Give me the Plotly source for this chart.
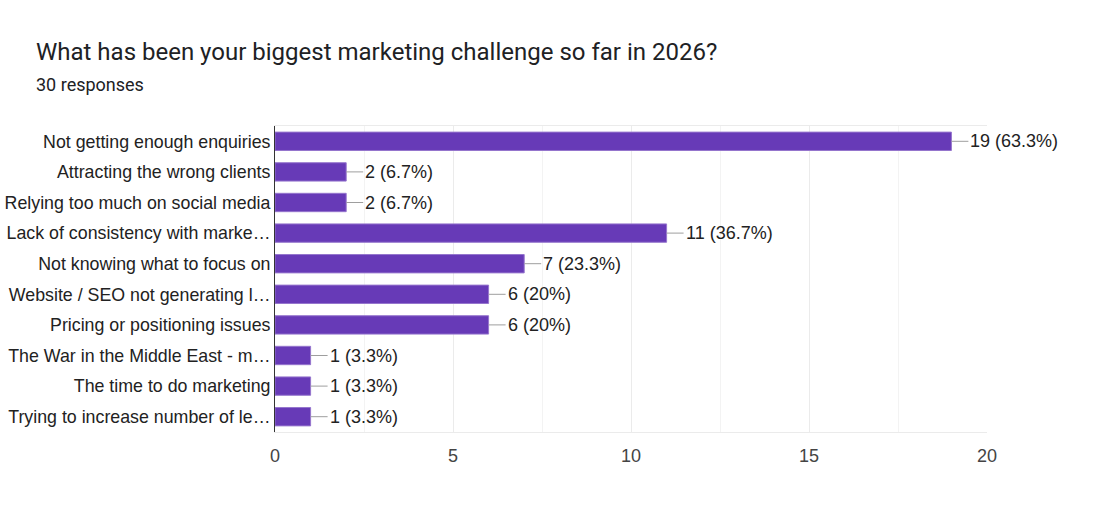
import plotly.graph_objects as go

categories = [
    "Not getting enough enquiries",
    "Attracting the wrong clients",
    "Relying too much on social media",
    "Lack of consistency with marke\u2026",
    "Not knowing what to focus on",
    "Website / SEO not generating l\u2026",
    "Pricing or positioning issues",
    "The War in the Middle East - m\u2026",
    "The time to do marketing",
    "Trying to increase number of le\u2026",
]
counts = [19, 2, 2, 11, 7, 6, 6, 1, 1, 1]
percent_labels = ["63.3%", "6.7%", "6.7%", "36.7%", "23.3%", "20%", "20%", "3.3%", "3.3%", "3.3%"]
total_responses = 30
x_ticks = [0, 5, 10, 15, 20]

W, H = 1098, 522
L, R, T, B = 275, 111, 126, 90
pw, ph = W - L - R, H - T - B

fig = go.Figure()
fig.add_trace(go.Bar(
    x=counts, y=categories, orientation="h",
    marker=dict(color="#673ab7", line=dict(color="#9575cd", width=1)),
    hoverinfo="skip",
))

for c, cat, p in zip(counts, categories, percent_labels):
    fig.add_annotation(
        x=c, y=cat, xref="x", yref="y",
        text=f"{c} ({p})", showarrow=True, arrowhead=0, arrowwidth=1,
        arrowcolor="#9e9e9e", ax=17, ay=0, xanchor="left", yanchor="middle",
        font=dict(family="Liberation Sans, Arial", size=18, color="#222222"),
        standoff=0,
    )

fig.add_annotation(
    xref="paper", yref="paper", x=(34 - L) / pw, y=(T + ph - 84) / ph,
    text=f"{total_responses} responses", showarrow=False, xanchor="left", yanchor="middle",
    font=dict(family="Roboto", size=18, color="#202124"),
)

fig.update_layout(
    width=W, height=H,
    margin=dict(l=L, r=R, t=T, b=B, pad=0, autoexpand=False),
    paper_bgcolor="white", plot_bgcolor="white",
    bargap=0.4,
    showlegend=False,
    title=dict(
        text="What has been your biggest marketing challenge so far in 2026?",
        x=36 / W, xref="container", xanchor="left",
        y=1 - 52 / H, yref="container", yanchor="middle",
        font=dict(family="Roboto", size=24, color="#202124"),
    ),
    xaxis=dict(
        range=[0, 20], tickvals=x_ticks, ticktext=[str(v) for v in x_ticks],
        showgrid=True, gridcolor="#ebebeb", gridwidth=1,
        minor=dict(dtick=2.5, showgrid=True, gridcolor="#f3f3f3", gridwidth=1),
        zeroline=False, showline=True, mirror=True, linecolor="#ebebeb", linewidth=1,
        ticks="", ticklabelstandoff=7, automargin=False,
        tickfont=dict(family="Liberation Sans, Arial", size=18, color="#444444"),
        fixedrange=True,
    ),
    yaxis=dict(
        autorange="reversed", showgrid=False, zeroline=False,
        showline=True, linecolor="#333333", linewidth=1,
        ticks="", ticklabelstandoff=0, automargin=False,
        tickfont=dict(family="Liberation Sans, Arial", size=17.8, color="#222222"),
        fixedrange=True,
    ),
)

fig.write_html("out.html", config={"displayModeBar": False})
